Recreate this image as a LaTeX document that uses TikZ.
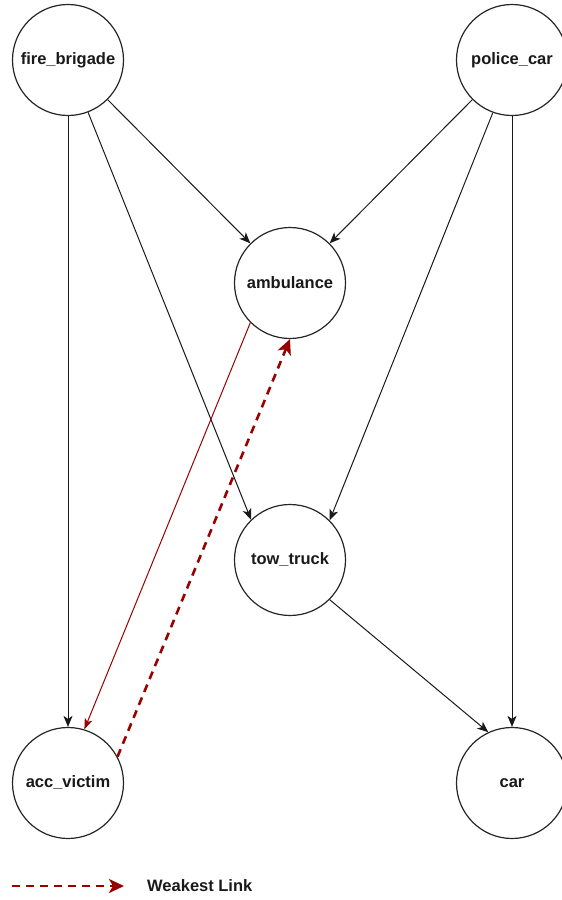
\documentclass[tikz,border=0pt]{standalone}
\usepackage{fontspec}
\setmainfont{Liberation Sans}
\usetikzlibrary{arrows.meta}
\definecolor{linkred}{HTML}{990000}
\begin{document}
\begin{tikzpicture}[x=1pt,y=-1pt,
  agent/.style={circle,draw=black!85,line width=1.2pt,fill=white,minimum size=111pt,inner sep=0pt,
    font=\fontsize{16.5}{18}\selectfont\bfseries,text=black!90},
  edge/.style={line width=1pt,draw=black!90,-{Stealth[length=11pt,width=9pt,inset=3pt]}},
  rededge/.style={line width=1pt,draw=linkred,-{Stealth[length=11pt,width=8pt,inset=3pt]}},
  weaklink/.style={line width=2.6pt,draw=linkred,dash pattern=on 8pt off 6pt,
    -{Stealth[length=15pt,width=14pt,inset=4pt]}},
  legendtext/.style={font=\fontsize{16.5}{18}\selectfont\bfseries,text=black!90,anchor=west,inner sep=0pt}]
\useasboundingbox (0,0) rectangle (562,900);

% agents
\node[agent] (fb) at (68,60) {fire\_brigade};
\node[agent] (pc) at (512,60) {police\_car};
\node[agent] (amb) at (290,283) {ambulance};
\node[agent] (tow) at (290,560) {tow\_truck};
\node[agent] (acc) at (68,783) {acc\_victim};
\node[agent] (car) at (512,783) {car};

% dependencies
\draw[edge] (fb.270) -- (acc.90);
\draw[edge] (fb.-69) -- (tow.134);
\draw[edge] (fb.-45) -- (amb.135);
\draw[edge] (pc.225) -- (amb.45);
\draw[edge] (pc.250) -- (tow.45);
\draw[edge] (pc.270) -- (car.90);
\draw[edge] (tow.-45) -- (car.115);
\draw[rededge] (amb.225) -- (acc.73);
\draw[weaklink] (acc.28) -- (amb.270);

% legend
\coordinate (legA) at (12,886);
\coordinate (legB) at (124,886);
\draw[weaklink] (legA) -- (legB);
\node[legendtext] (legT) at (147,886) {Weakest Link};
\end{tikzpicture}
\end{document}
